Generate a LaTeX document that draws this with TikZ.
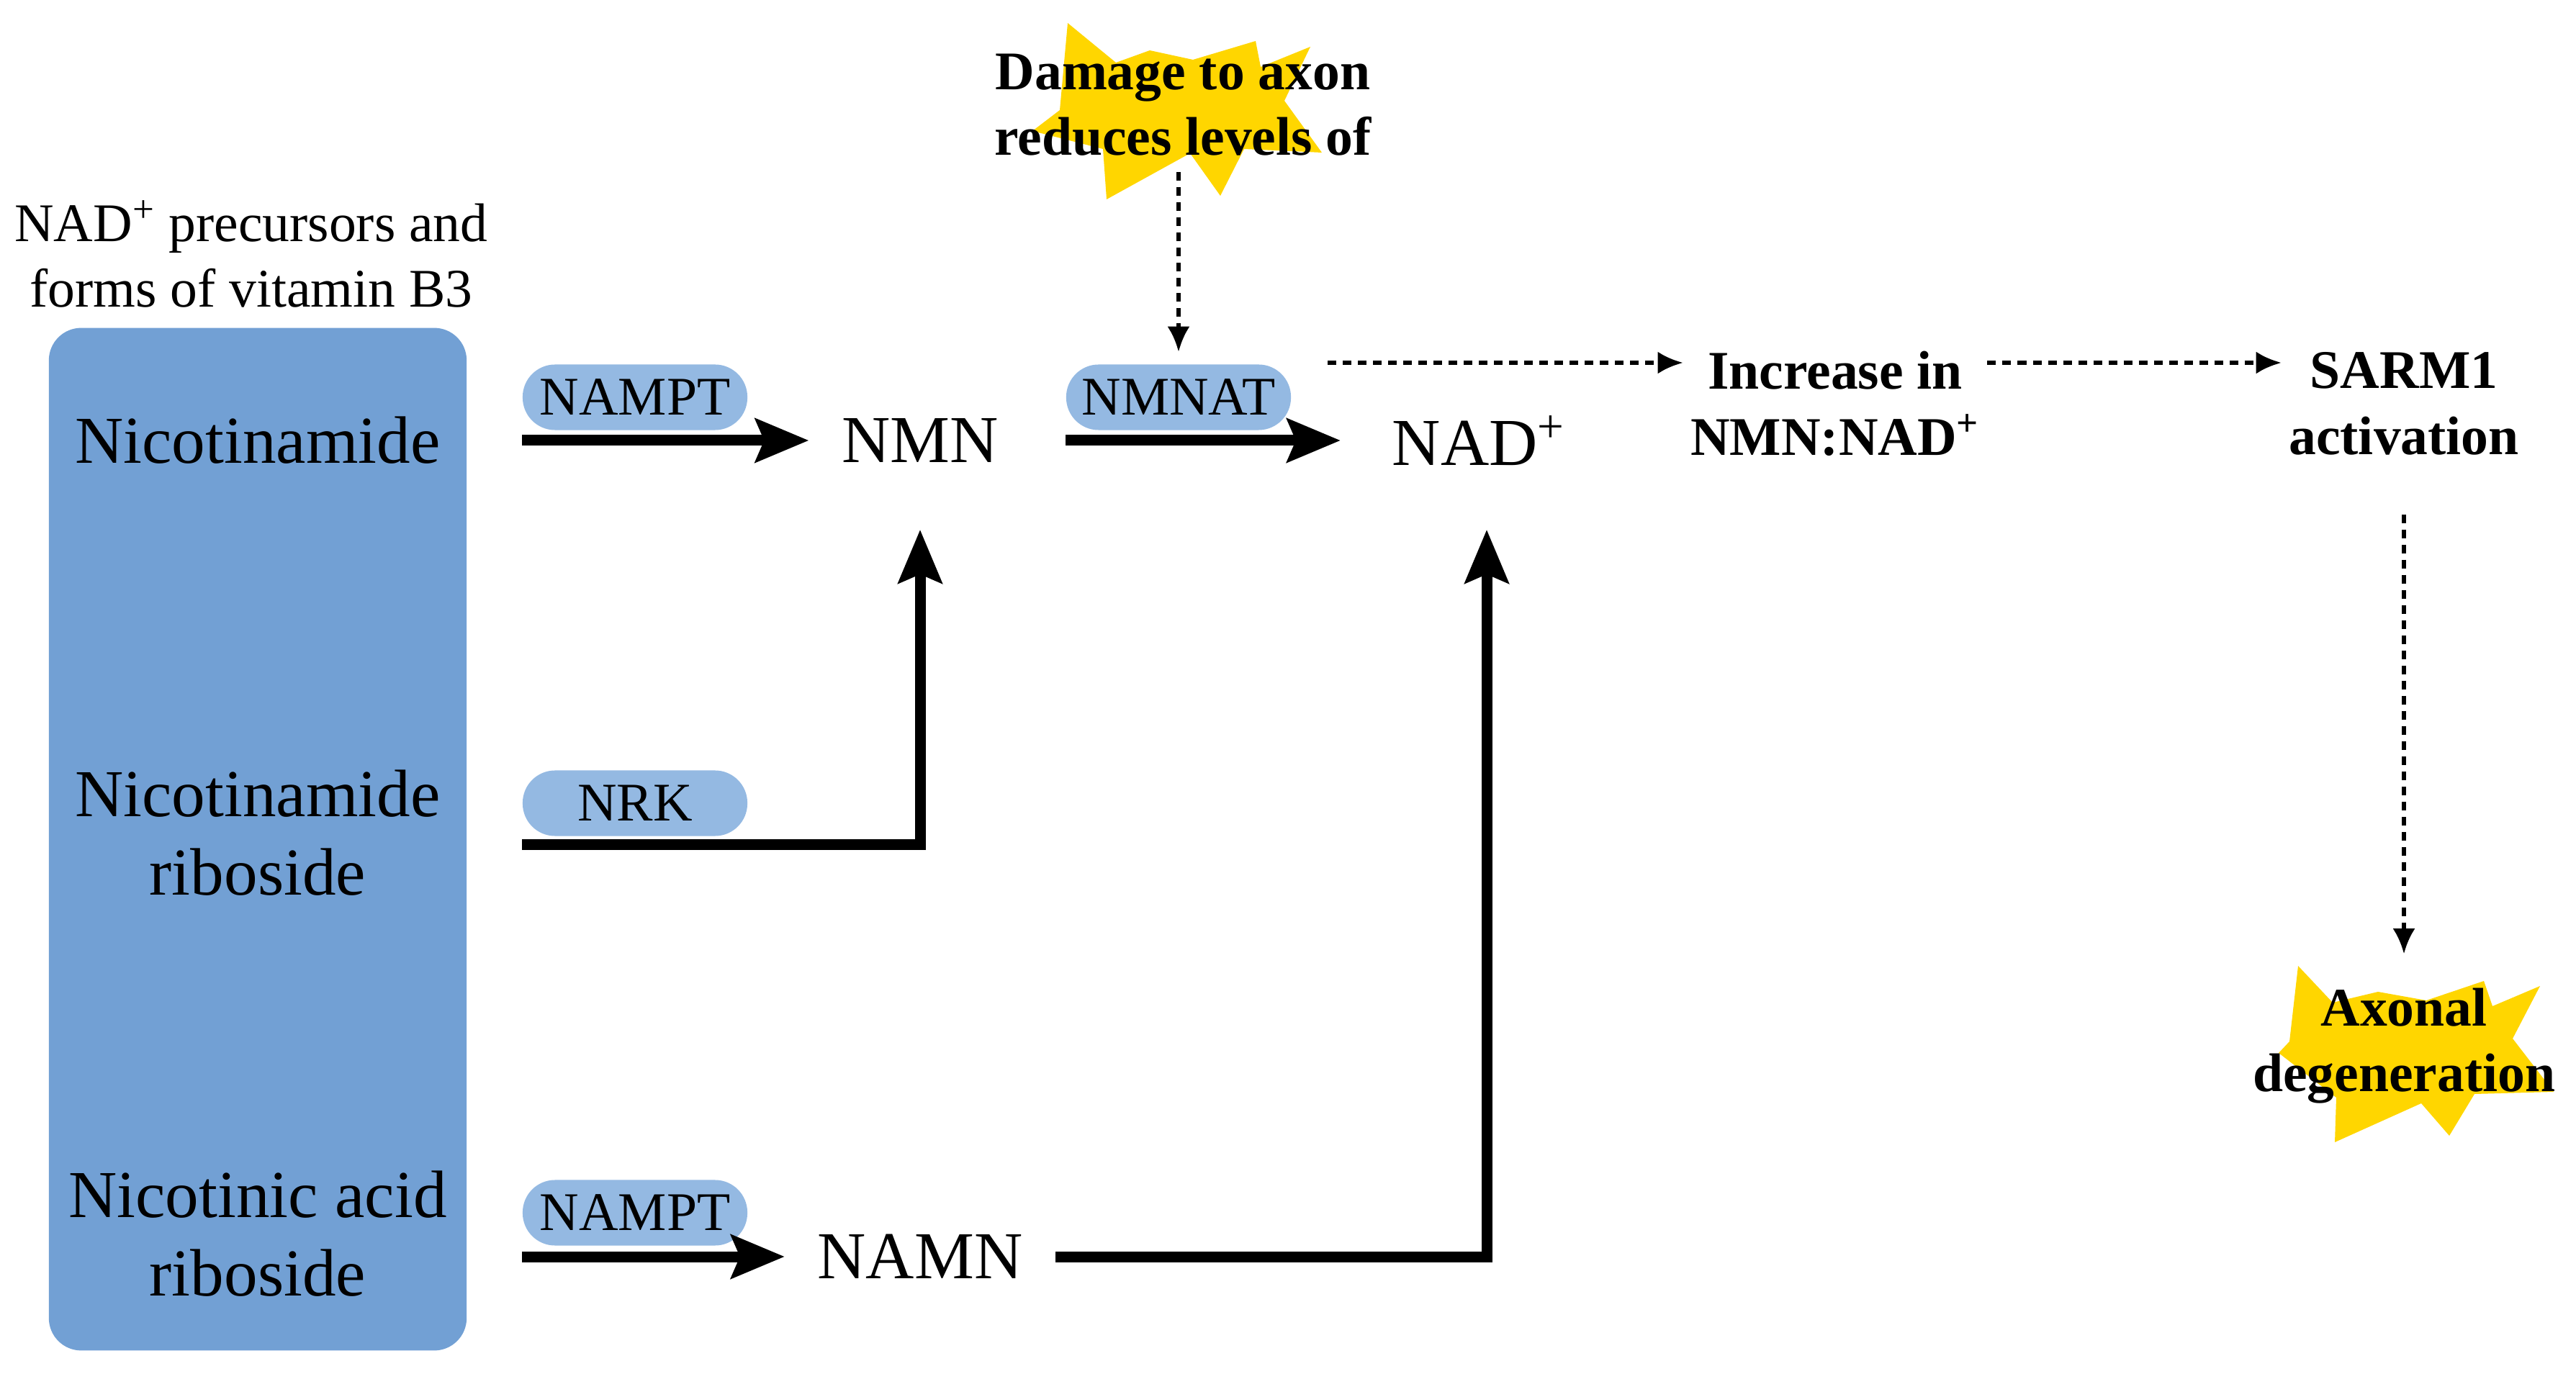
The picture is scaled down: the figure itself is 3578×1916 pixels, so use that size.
\documentclass[tikz,border=0pt]{standalone}
\usepackage{fontspec}
\setmainfont{Liberation Serif}
\usepackage{tikz}
\usetikzlibrary{arrows.meta,positioning}

\definecolor{boxblue}{RGB}{114,160,212}
\definecolor{pillblue}{RGB}{148,185,226}
\definecolor{burst}{RGB}{255,214,0}

\tikzset{
	species/.style={font=\fontsize{26.5pt}{31pt}\selectfont, align=center, inner xsep=0.45cm, minimum height=2.46cm},
	enzyme/.style={fill=pillblue, rounded corners=0.45cm, minimum width=3.12cm, minimum height=0.91cm, inner sep=0pt, font=\fontsize{21.5pt}{26pt}\selectfont},
	effect/.style={font=\bfseries\fontsize{21.5pt}{26pt}\selectfont, align=center, inner xsep=0.1cm},
	reaction/.style={line width=1.5mm, -{Stealth[length=7.4mm,width=6mm,inset=1.2mm]}},
	signal/.style={line width=0.55mm, dash pattern=on 1.2mm off 0.9mm, -{Latex[length=3.5mm,width=3.1mm]}},
}

\begin{document}
\begin{tikzpicture}[x=0.01cm,y=-0.01cm]
\useasboundingbox (0,0) rectangle (3578,1916);

% starbursts behind the texts
\fill[burst] (1483,32) -- (1550,87) -- (1597,70) -- (1657,83) -- (1744,57) -- (1751,93) -- (1820,65) -- (1784,140) -- (1836,212) -- (1728,207) -- (1695,272) -- (1653,213) -- (1537,277) -- (1532,207) -- (1434,182) -- (1472,153) -- cycle; % damage
\fill[burst] (3192,1342) -- (3240,1393) -- (3303,1378) -- (3370,1390) -- (3450,1363) -- (3462,1398) -- (3528,1370) -- (3490,1443) -- (3547,1517) -- (3437,1520) -- (3402,1578) -- (3363,1533) -- (3243,1587) -- (3245,1525) -- (3165,1463) -- (3180,1447) -- cycle; % degeneration

% precursor column
\node[font=\fontsize{21.5pt}{26pt}\selectfont, align=center] (head) at (349,353) {NAD\textsuperscript{+} precursors and\\forms of vitamin B3};
\node[fill=boxblue, rounded corners=0.45cm, minimum width=5.8cm, minimum height=14.2cm] (col) at (358,1166) {};
\node[species] (nam) at (358,612) {Nicotinamide};
\node[species] (nr) at (358,1157) {Nicotinamide\\riboside};
\node[species] (nar) at (358,1714) {Nicotinic acid\\riboside};

% products
\node[species] (nmn) at (1278,612) {NMN};
\node[species] (nad) at (2054,612) {NAD\textsuperscript{+}};
\node[species] (namn) at (1278,1746) {NAMN};

% enzymes
\node[enzyme] (nampt1) at (882,552) {NAMPT};
\node[enzyme] (nmnat) at (1637,552) {NMNAT};
\node[enzyme] (nrk) at (882,1116) {NRK};
\node[enzyme] (nampt2) at (882,1685) {NAMPT};

% effects
\node[effect] (dmg) at (1643,146) {Damage to axon\\reduces levels of};
\node[effect] (inc) at (2549,561) {Increase in\\NMN:NAD\textsuperscript{+}};
\node[effect] (sarm) at (3339,561) {SARM1\\activation};
\node[effect] (axon) at (3339,1453) {Axonal\\degeneration};
\coordinate (fork) at (1844,504);

% reactions
\draw[reaction] (nampt1.south west |- nmn.west) -- (nmn.west);
\draw[reaction, shorten >=2.6mm] (nmnat.south west |- nad.west) -- (nad.west);
\draw[reaction] ([yshift=-1.1mm]nrk.south west) -| (nmn.south);
\draw[reaction] (nampt2.south west |- namn.west) -- (namn.west);
\draw[reaction] (namn.east) -| ([xshift=1.1mm]nad.south);

% signals
\draw[signal, shorten <=1mm, shorten >=1.7mm] (dmg.south -| nmnat.north) -- (nmnat.north);
\draw[signal] (fork) -- (fork -| inc.west);
\draw[signal] (fork -| inc.east) -- (fork -| sarm.west);
\draw[signal, shorten <=7mm] (sarm.south) -- ([yshift=3.5mm]axon.north);
\end{tikzpicture}
\end{document}
